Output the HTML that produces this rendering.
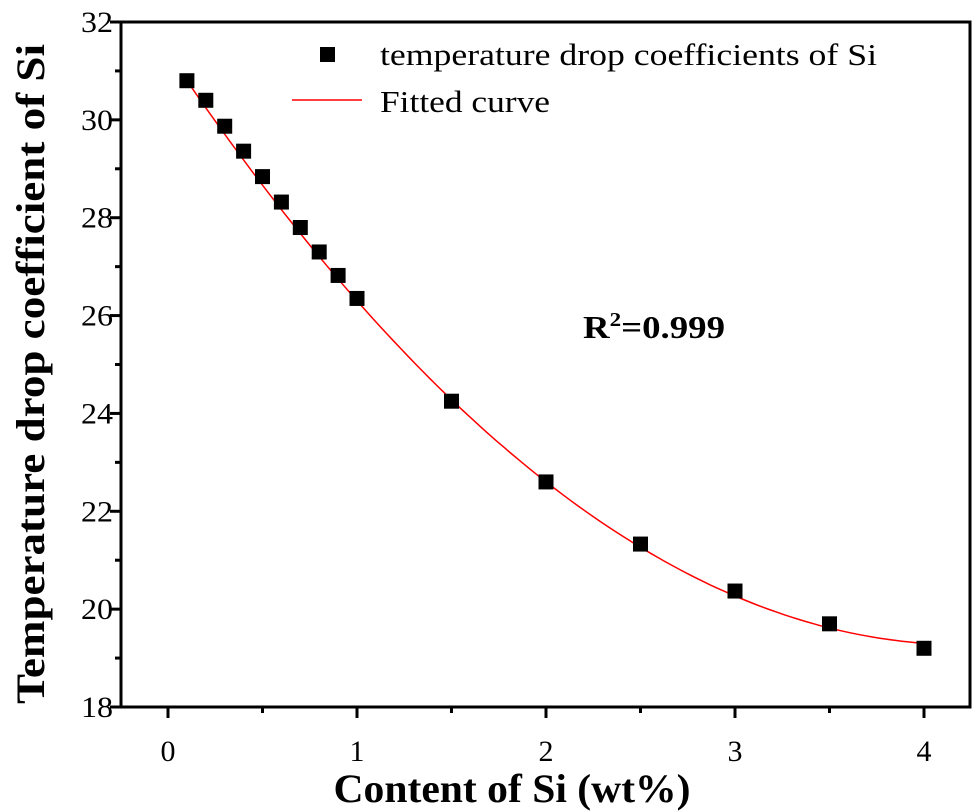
<!DOCTYPE html>
<html><head><meta charset="utf-8"><style>
body{margin:0;background:#fff}
svg{display:block;font-family:"Liberation Serif",serif}
</style></head><body>
<svg id="chart" width="975" height="812"></svg>
<script>
const xs=[0.1,0.2,0.3,0.4,0.5,0.6,0.7,0.8,0.9,1.0,1.5,2.0,2.5,3.0,3.5,4.0];
const ys=[30.8,30.4,29.87,29.36,28.84,28.32,27.8,27.3,26.82,26.35,24.25,22.6,21.33,20.37,19.7,19.2];
const fitCoef=[31.37,-5.751,0.6835];
const xTicks=[0,1,2,3,4];
const yTicks=[18,20,22,24,26,28,30,32];
const NS="http://www.w3.org/2000/svg";
const svg=document.getElementById('chart');
const L=121,R=970,T=22,B=707;
const sx=v=>168+v*189;
const sy=v=>B-(v-18)*(B-T)/14;
function mk(t,a){const e=document.createElementNS(NS,t);for(const k in a)e.setAttribute(k,a[k]);svg.appendChild(e);return e;}
const frame=mk('rect',{x:L,y:T,width:R-L,height:B-T,fill:'none',stroke:'#000','stroke-width':3});


xTicks.forEach(v=>{
  const t=mk('line',{x1:sx(v),x2:sx(v),y1:B,y2:B+11,stroke:'#000','stroke-width':3});
  
  
  if(v<4){const m=mk('line',{x1:sx(v+0.5),x2:sx(v+0.5),y1:B,y2:B+6,stroke:'#000','stroke-width':3});
  
  }
  const l=mk('text',{x:sx(v),y:B+54,'text-anchor':'middle','font-size':30});
  l.textContent=v;
  
  
});
yTicks.forEach(v=>{
  const t=mk('line',{x1:L-11,x2:L,y1:sy(v),y2:sy(v),stroke:'#000','stroke-width':3});
  
  
  if(v<32){const m=mk('line',{x1:L-6,x2:L,y1:sy(v+1),y2:sy(v+1),stroke:'#000','stroke-width':3});
  
  }
  const l=mk('text',{x:L-8,y:sy(v)+10,'text-anchor':'end','font-size':30,textLength:32,lengthAdjust:'spacingAndGlyphs'});
  l.textContent=v;
  
  
});
let d='';
for(let i=0;i<=100;i++){const x=0.1+3.9*i/100;const y=fitCoef[0]+fitCoef[1]*x+fitCoef[2]*x*x;d+=(i?'L':'M')+sx(x).toFixed(1)+','+sy(y).toFixed(1);}
const curve=mk('path',{d:d,fill:'none',stroke:'#f00','stroke-width':1.5});


xs.forEach((x,i)=>{
  const r=mk('rect',{x:sx(x)-7.5,y:sy(ys[i])-7.5,width:15,height:15,fill:'#000'});
  
  
});
const lm=mk('rect',{x:320,y:47,width:15,height:15,fill:'#000'});


const lt1=mk('text',{x:380,y:65,'font-size':31,textLength:497,lengthAdjust:'spacingAndGlyphs'});lt1.textContent='temperature drop coefficients of Si';


const ll=mk('line',{x1:292,x2:362,y1:100,y2:100,stroke:'#f00','stroke-width':1.5});


const lt2=mk('text',{x:380,y:112,'font-size':31,textLength:170,lengthAdjust:'spacingAndGlyphs'});lt2.textContent='Fitted curve';


const r2=mk('text',{x:583,y:338,'font-size':32,'font-weight':'bold',textLength:142,lengthAdjust:'spacingAndGlyphs'});
r2.innerHTML='R<tspan dy="-12" font-size="20">2</tspan><tspan dy="12">=0.999</tspan>';


const xt=mk('text',{x:512,y:802,'text-anchor':'middle','font-size':40,'font-weight':'bold',textLength:357,lengthAdjust:'spacingAndGlyphs'});
xt.textContent='Content of Si (wt%)';


const yt=mk('text',{x:0,y:0,'text-anchor':'middle','font-size':40,'font-weight':'bold',textLength:660,lengthAdjust:'spacingAndGlyphs',transform:'translate(44,374) rotate(-90)'});
yt.textContent='Temperature drop coefficient of Si';


</script>
</body></html>
